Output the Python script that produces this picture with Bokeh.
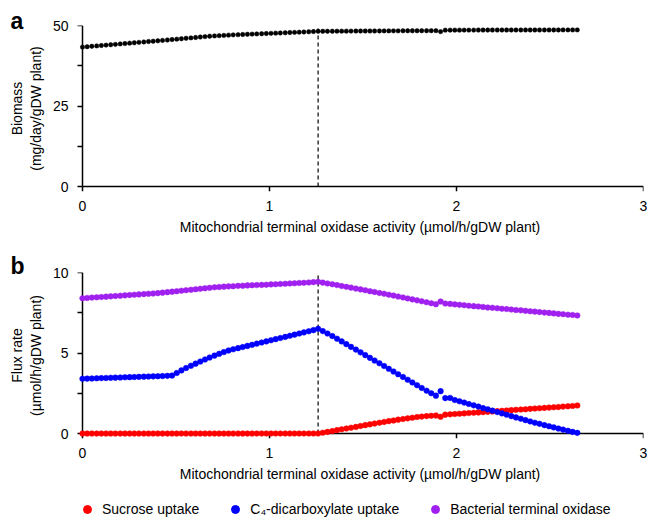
from bokeh.plotting import figure
from bokeh.models import (Range1d, FixedTicker, Legend, LegendItem, LinearAxis,
                          CustomJSTickFormatter)
from bokeh.layouts import column
from bokeh.embed import file_html
from bokeh.resources import INLINE

# ---------------- data ----------------
x_activity = [
    0.000, 0.025, 0.050, 0.076, 0.101, 0.126, 0.151, 0.176, 0.202, 0.227,
    0.252, 0.277, 0.302, 0.328, 0.353, 0.378, 0.403, 0.428, 0.454, 0.479,
    0.504, 0.529, 0.554, 0.580, 0.605, 0.630, 0.655, 0.680, 0.706, 0.731,
    0.756, 0.781, 0.806, 0.832, 0.857, 0.882, 0.907, 0.932, 0.958, 0.983,
    1.008, 1.033, 1.058, 1.084, 1.109, 1.134, 1.159, 1.184, 1.210, 1.235,
    1.260, 1.285, 1.310, 1.336, 1.361, 1.386, 1.411, 1.436, 1.462, 1.487,
    1.512, 1.537, 1.562, 1.588, 1.613, 1.638, 1.663, 1.688, 1.714, 1.739,
    1.764, 1.789, 1.814, 1.840, 1.865, 1.890, 1.915, 1.940, 1.966, 1.991,
    2.016, 2.041, 2.066, 2.092, 2.117, 2.142, 2.167, 2.192, 2.218, 2.243,
    2.268, 2.293, 2.318, 2.344, 2.369, 2.394, 2.419, 2.444, 2.470, 2.495,
    2.520, 2.545, 2.570, 2.596, 2.621, 2.646]

biomass = [
    43.30, 43.42, 43.54, 43.67, 43.79, 43.91, 44.03, 44.15, 44.28, 44.40,
    44.52, 44.64, 44.76, 44.89, 45.01, 45.13, 45.25, 45.37, 45.50, 45.63,
    45.76, 45.89, 46.02, 46.15, 46.28, 46.42, 46.55, 46.68, 46.77, 46.85,
    46.93, 47.01, 47.09, 47.15, 47.21, 47.27, 47.33, 47.39, 47.45, 47.51,
    47.57, 47.63, 47.69, 47.75, 47.81, 47.87, 47.93, 47.99, 48.05, 48.12,
    48.20, 48.21, 48.22, 48.23, 48.24, 48.24, 48.25, 48.26, 48.27, 48.28,
    48.29, 48.30, 48.30, 48.31, 48.32, 48.33, 48.34, 48.34, 48.35, 48.36,
    48.37, 48.37, 48.38, 48.39, 48.39, 48.40, 48.10, 48.55, 48.56, 48.56,
    48.56, 48.57, 48.57, 48.57, 48.58, 48.58, 48.58, 48.59, 48.59, 48.59,
    48.60, 48.60, 48.60, 48.60, 48.61, 48.61, 48.61, 48.61, 48.62, 48.62,
    48.62, 48.62, 48.63, 48.63, 48.63, 48.63]

sucrose_uptake = [
    0.00, 0.00, 0.00, 0.00, 0.00, 0.00, 0.00, 0.00, 0.00, 0.00,
    0.00, 0.00, 0.00, 0.00, 0.00, 0.00, 0.00, 0.00, 0.00, 0.00,
    0.00, 0.00, 0.00, 0.00, 0.00, 0.00, 0.00, 0.00, 0.00, 0.00,
    0.00, 0.00, 0.00, 0.00, 0.00, 0.00, 0.00, 0.00, 0.00, 0.00,
    0.00, 0.00, 0.00, 0.00, 0.00, 0.00, 0.00, 0.00, 0.00, 0.00,
    0.00, 0.05, 0.10, 0.15, 0.21, 0.26, 0.31, 0.36, 0.41, 0.47,
    0.52, 0.57, 0.62, 0.67, 0.72, 0.77, 0.81, 0.86, 0.90, 0.94,
    0.98, 1.02, 1.05, 1.08, 1.10, 1.12, 1.04, 1.17, 1.19, 1.21,
    1.23, 1.25, 1.27, 1.29, 1.31, 1.33, 1.35, 1.37, 1.39, 1.41,
    1.43, 1.45, 1.47, 1.49, 1.51, 1.53, 1.55, 1.57, 1.59, 1.61,
    1.63, 1.65, 1.67, 1.69, 1.71, 1.74]

c4_uptake = [
    3.40, 3.41, 3.42, 3.43, 3.44, 3.45, 3.46, 3.47, 3.48, 3.49,
    3.50, 3.51, 3.52, 3.53, 3.54, 3.55, 3.56, 3.57, 3.58, 3.60,
    3.76, 3.92, 4.07, 4.21, 4.34, 4.47, 4.60, 4.72, 4.84, 4.95,
    5.06, 5.16, 5.23, 5.30, 5.37, 5.44, 5.51, 5.58, 5.65, 5.72,
    5.79, 5.86, 5.93, 6.00, 6.07, 6.14, 6.21, 6.28, 6.35, 6.42,
    6.50, 6.36, 6.21, 6.05, 5.89, 5.72, 5.55, 5.38, 5.21, 5.04,
    4.87, 4.70, 4.53, 4.36, 4.19, 4.02, 3.85, 3.68, 3.51, 3.34,
    3.17, 3.00, 2.83, 2.66, 2.50, 2.35, 2.63, 2.20, 2.21, 2.08,
    2.00, 1.92, 1.83, 1.75, 1.67, 1.58, 1.50, 1.42, 1.33, 1.25,
    1.17, 1.08, 1.00, 0.92, 0.83, 0.75, 0.67, 0.60, 0.52, 0.45,
    0.38, 0.31, 0.24, 0.17, 0.10, 0.04]

bacterial_oxidase = [
    8.40, 8.42, 8.44, 8.46, 8.48, 8.50, 8.52, 8.54, 8.56, 8.58,
    8.60, 8.62, 8.64, 8.66, 8.68, 8.70, 8.72, 8.75, 8.78, 8.81,
    8.84, 8.87, 8.90, 8.93, 8.96, 8.99, 9.02, 9.05, 9.08, 9.10,
    9.12, 9.14, 9.15, 9.17, 9.18, 9.20, 9.21, 9.22, 9.23, 9.24,
    9.26, 9.27, 9.29, 9.30, 9.32, 9.33, 9.35, 9.36, 9.38, 9.40,
    9.42, 9.37, 9.32, 9.27, 9.22, 9.16, 9.11, 9.06, 9.00, 8.95,
    8.90, 8.84, 8.79, 8.73, 8.68, 8.62, 8.57, 8.51, 8.45, 8.39,
    8.33, 8.27, 8.21, 8.15, 8.09, 8.03, 8.20, 8.07, 8.05, 8.02,
    7.99, 7.97, 7.94, 7.91, 7.89, 7.86, 7.83, 7.81, 7.78, 7.75,
    7.73, 7.70, 7.67, 7.65, 7.62, 7.59, 7.57, 7.54, 7.51, 7.49,
    7.46, 7.43, 7.41, 7.38, 7.36, 7.33]

optimum_activity = 1.26
x_ticks = [0, 1, 2, 3]
biomass_ticks = [0, 25, 50]
biomass_minor = [12.5, 37.5]
flux_ticks = [0, 5, 10]
flux_minor = [2.5, 7.5]

x_title = "Mitochondrial terminal oxidase activity (\u00b5mol/h/gDW plant)"
biomass_title = "Biomass\n(mg/day/gDW plant)"
flux_title = "Flux rate\n(\u00b5mol/h/gDW plant)"
series_names = ["Sucrose uptake", "C\u2084-dicarboxylate uptake", "Bacterial terminal oxidase"]
series_values = [sucrose_uptake, c4_uptake, bacterial_oxidase]
series_colors = ["#ff0000", "#0000ff", "#a020f0"]

FONT = "Liberation Sans"


def make_fig(height, ymin, ymax, top, bottom, letter, letter_standoff):
    p = figure(width=649, height=height, x_range=Range1d(-0.032, 3),
               y_range=Range1d(ymin, ymax), output_backend="svg",
               toolbar_location=None, min_border_left=76, min_border_right=6,
               min_border_top=top, min_border_bottom=bottom, title=letter)
    p.outline_line_color = None
    p.xgrid.visible = False
    p.ygrid.visible = False
    p.background_fill_color = "white"
    p.border_fill_color = "white"
    t = p.title
    t.align = "left"
    t.offset = -66
    t.standoff = letter_standoff
    t.text_font = FONT
    t.text_font_size = "23px"
    t.text_font_style = "bold"
    t.text_color = "black"
    return p


def label_axis(ax, ticks, title, standoff, title_standoff):
    # texts only: tick labels and axis title
    ax.ticker = FixedTicker(ticks=ticks)
    ax.axis_label = title
    ax.axis_label_text_font = FONT
    ax.axis_label_text_font_size = "14px"
    ax.axis_label_text_font_style = "normal"
    ax.axis_label_text_color = "black"
    ax.axis_label_standoff = title_standoff
    ax.major_label_text_font = FONT
    ax.major_label_text_font_size = "14px"
    ax.major_label_text_color = "black"
    ax.major_label_standoff = standoff
    ax.axis_line_color = None
    ax.major_tick_line_color = None
    ax.minor_tick_line_color = None
    ax.major_tick_in = 0
    ax.major_tick_out = 0
    ax.minor_tick_in = 0
    ax.minor_tick_out = 0


def rule_axis(ticks, minor, bounds):
    # axis line and ticks drawn at zero of the other axis
    return LinearAxis(fixed_location=0, ticker=FixedTicker(ticks=ticks, minor_ticks=minor),
                      bounds=bounds, formatter=CustomJSTickFormatter(code="return ''"),
                      axis_line_color="black", axis_line_width=1.5,
                      major_tick_line_color="black", major_tick_line_width=1.5,
                      major_tick_in=0, major_tick_out=5,
                      minor_tick_line_color="black", minor_tick_line_width=1.5,
                      minor_tick_in=0, minor_tick_out=5)


def setup_axes(p, yticks, yminor, ytitle):
    label_axis(p.xaxis[0], x_ticks, x_title, 9, 5)
    label_axis(p.yaxis[0], yticks, ytitle, 8, 6)
    p.add_layout(rule_axis(x_ticks, [], (x_ticks[0], x_ticks[-1])), "below")
    p.add_layout(rule_axis(yticks, yminor, (yticks[0], yticks[-1])), "left")


# ---------------- panel a ----------------
pa = make_fig(248, -1.55, 50, 25, 57, "a", -16)
setup_axes(pa, biomass_ticks, biomass_minor, biomass_title)
pa.segment(x0=[optimum_activity], y0=[biomass_ticks[0]], x1=[optimum_activity],
           y1=[biomass_ticks[-1]], line_color="black", line_width=1.2, line_dash="4 3")
pa.scatter(x_activity, biomass, size=4.4, fill_color="black", line_color="black",
           line_width=0.5, level="overlay")

# ---------------- panel b ----------------
pb = make_fig(242, -0.31, 10, 24, 52, "b", -12)
setup_axes(pb, flux_ticks, flux_minor, flux_title)
pb.segment(x0=[optimum_activity], y0=[flux_ticks[0]], x1=[optimum_activity],
           y1=[flux_ticks[-1]], line_color="black", line_width=1.2, line_dash="4 3")
for vals, col in zip(series_values, series_colors):
    pb.scatter(x_activity, vals, size=5.6, fill_color=col, line_color=col,
               line_width=0.5, level="overlay")

# ---------------- legend strip (series drawn out of view; only the legend shows) ----------------
pc = figure(width=649, height=28, output_backend="svg", toolbar_location=None,
            x_axis_location=None, y_axis_location=None, min_border=0,
            x_range=Range1d(100, 101), y_range=Range1d(100, 101))
pc.outline_line_color = None
pc.grid.visible = False
pc.border_fill_color = "white"
pc.background_fill_color = "white"
items = []
for name, vals, col in zip(series_names, series_values, series_colors):
    r = pc.scatter(x_activity, vals, size=8, fill_color=col, line_color=col)
    items.append(LegendItem(label=name, renderers=[r]))
legend = Legend(items=items, location=(1, -1), orientation="horizontal",
                glyph_width=20, glyph_height=20, label_standoff=5, spacing=26,
                padding=0, margin=0, label_text_font=FONT, label_text_font_size="14px",
                label_text_color="black", label_height=20,
                border_line_color=None, background_fill_alpha=0)
pc.add_layout(legend)

layout = column(pa, pb, pc, spacing=0)
open("out.html", "w").write(file_html(layout, INLINE))
